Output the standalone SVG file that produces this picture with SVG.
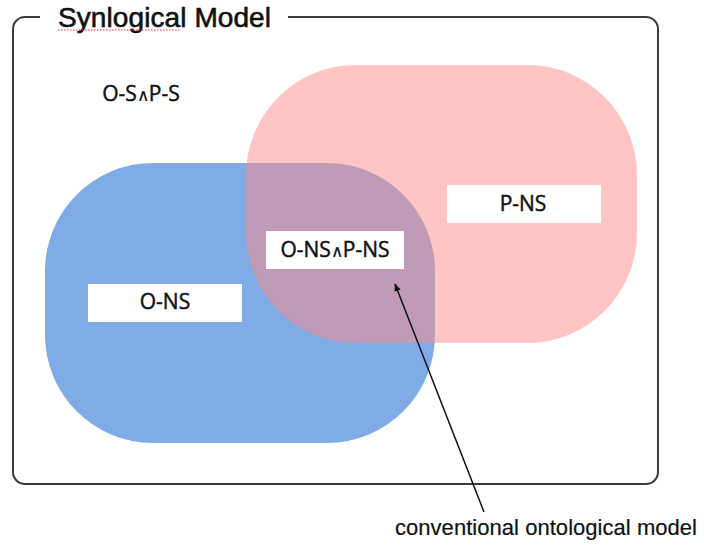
<svg xmlns="http://www.w3.org/2000/svg" width="704" height="546" viewBox="0 0 704 546">
<style>
.lbl{font-family:"Open Sans","Noto Sans",sans-serif;font-size:21px;fill:#111;stroke:#111;stroke-width:0.45;text-anchor:middle}
.wedge{font-size:17px;stroke-width:0.2}
.box{fill:#fff}
.frame{fill:none;stroke:#3a3a3a;stroke-width:2}
</style>
<defs>
<marker id="ah" viewBox="0 0 10 10" refX="9" refY="5" markerWidth="8" markerHeight="8" orient="auto" markerUnits="userSpaceOnUse">
<path d="M0,1 L10,5 L0,9 z" fill="#111"/>
</marker>
</defs>
<rect width="704" height="546" fill="#fff"/>
<g id="frame">
<path class="frame" d="M40,17 H25 A12,12 0 0 0 13,29 V472 A12,12 0 0 0 25,484 H646 A12,12 0 0 0 658,472 V29 A12,12 0 0 0 646,17 H288"/>
<text x="58" y="27" font-family="Liberation Sans, Arial, sans-serif" font-size="28" fill="#111" stroke="#111" stroke-width="0.6" textLength="213">Synlogical Model</text>
<path d="M58,30 H181" stroke="#e03030" stroke-width="1" stroke-dasharray="1.5,1.5" fill="none"/>
</g>
<g id="o-s-p-s">
<text class="lbl" x="141" y="101" font-size="23">O-S<tspan class="wedge" font-size="19">∧</tspan>P-S</text>
</g>
<g id="o-ns">
<rect x="45" y="163" width="390" height="280" rx="108" ry="108" fill="#7FACE6"/>
</g>
<g id="p-ns">
<rect x="246" y="65" width="391" height="278" rx="110" ry="110" fill="#FF8989" fill-opacity="0.5"/>
</g>
<g id="o-ns-label">
<rect class="box" x="88" y="284" width="154" height="38"/>
<text class="lbl" x="165" y="309">O-NS</text>
</g>
<g id="p-ns-label">
<rect class="box" x="447" y="185" width="154" height="38"/>
<text class="lbl" x="523" y="211">P-NS</text>
</g>
<g id="intersection-label">
<rect class="box" x="266" y="231" width="138" height="38"/>
<text class="lbl" x="335" y="257">O-NS<tspan class="wedge">∧</tspan>P-NS</text>
</g>
<g id="connectors">
<line x1="484" y1="512" x2="395" y2="284" stroke="#111" stroke-width="1.5" marker-end="url(#ah)"/>
</g>
<g id="conventional">
<text x="395" y="535" font-family="Liberation Sans, Arial, sans-serif" font-size="22" fill="#111" stroke="#111" stroke-width="0.2" textLength="302">conventional ontological model</text>
</g>
</svg>
